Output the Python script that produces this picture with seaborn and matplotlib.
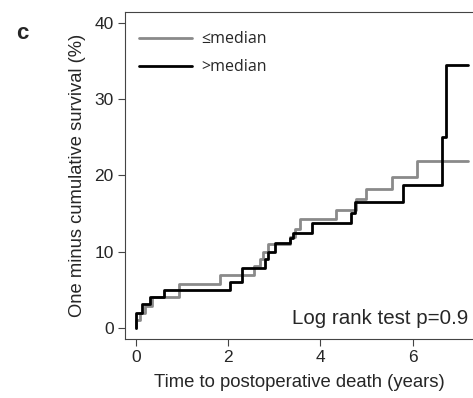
import numpy as np
import pandas as pd
import matplotlib
matplotlib.use("Agg")
import matplotlib.pyplot as plt
import seaborn as sns

# Step-function data (time in years, one minus cumulative survival %)
low_time = [0.00, 0.00, 0.08, 0.20, 0.35, 0.93, 1.82, 2.55, 2.69, 2.76, 2.87, 3.34, 3.45, 3.56, 4.33, 4.77, 4.99, 5.55, 6.09, 7.20]
low_surv = [0.0, 1.0, 2.0, 2.9, 4.1, 5.8, 6.9, 8.1, 9.0, 10.0, 11.0, 11.9, 13.0, 14.2, 15.5, 16.9, 18.2, 19.8, 21.9, 21.9]
high_time = [0.00, 0.00, 0.14, 0.30, 0.61, 2.04, 2.29, 2.80, 2.86, 3.02, 3.34, 3.40, 3.81, 4.66, 4.75, 5.80, 6.63, 6.72, 7.20]
high_surv = [0.0, 2.0, 3.1, 4.0, 5.0, 6.0, 7.9, 9.0, 10.0, 11.1, 11.8, 12.4, 13.7, 15.0, 16.5, 18.7, 25.0, 34.4, 34.4]
groups = ["≤median", ">median"]
x_ticks = [0, 2, 4, 6]
y_ticks = [0, 10, 20, 30, 40]

df = pd.concat([
    pd.DataFrame({"time": low_time, "surv": low_surv, "group": groups[0]}),
    pd.DataFrame({"time": high_time, "surv": high_surv, "group": groups[1]}),
], ignore_index=True)

sns.set_style("white")
plt.rcParams["font.family"] = ["Liberation Sans", "DejaVu Sans"]

fig = plt.figure(figsize=(4.73, 3.98), dpi=100)
ax = fig.add_axes([0.264, 0.148, 0.736, 0.822])

sns.lineplot(data=df, x="time", y="surv", hue="group", hue_order=groups,
             palette={groups[0]: "#8a8a8a", groups[1]: "#000000"},
             estimator=None, sort=False, drawstyle="steps-post",
             linewidth=2.0, ax=ax)

ax.set_xlim(-0.24, 7.31)
ax.set_ylim(-1.48, 41.4)
ax.set_xticks(x_ticks)
ax.set_yticks(y_ticks)
ax.tick_params(axis="both", which="major", direction="out", length=5, width=0.8,
               color="#444444", labelsize=12.5, pad=3, left=True, bottom=True)
for side in ["left", "top", "bottom"]:
    ax.spines[side].set_visible(True)
    ax.spines[side].set_color("#444444")
    ax.spines[side].set_linewidth(0.8)
ax.spines["right"].set_visible(False)

ax.set_xlabel("Time to postoperative death (years)", fontsize=13.3, labelpad=6)
ax.set_ylabel("One minus cumulative survival (%)", fontsize=13.2, labelpad=6)

leg = ax.legend(loc="upper left", bbox_to_anchor=(0.0, 0.985), frameon=False,
                handlelength=3.3, handletextpad=0.6, labelspacing=0.75,
                prop={"family": ["Open Sans", "DejaVu Sans"], "size": 11.5})

ax.text(0.985, 0.035, "Log rank test p=0.9", transform=ax.transAxes,
        ha="right", va="bottom", fontsize=14.8)

fig.text(0.035, 0.915, "c", fontsize=16, fontweight="bold", ha="left", va="center")

fig.savefig("out.png", dpi=100)
